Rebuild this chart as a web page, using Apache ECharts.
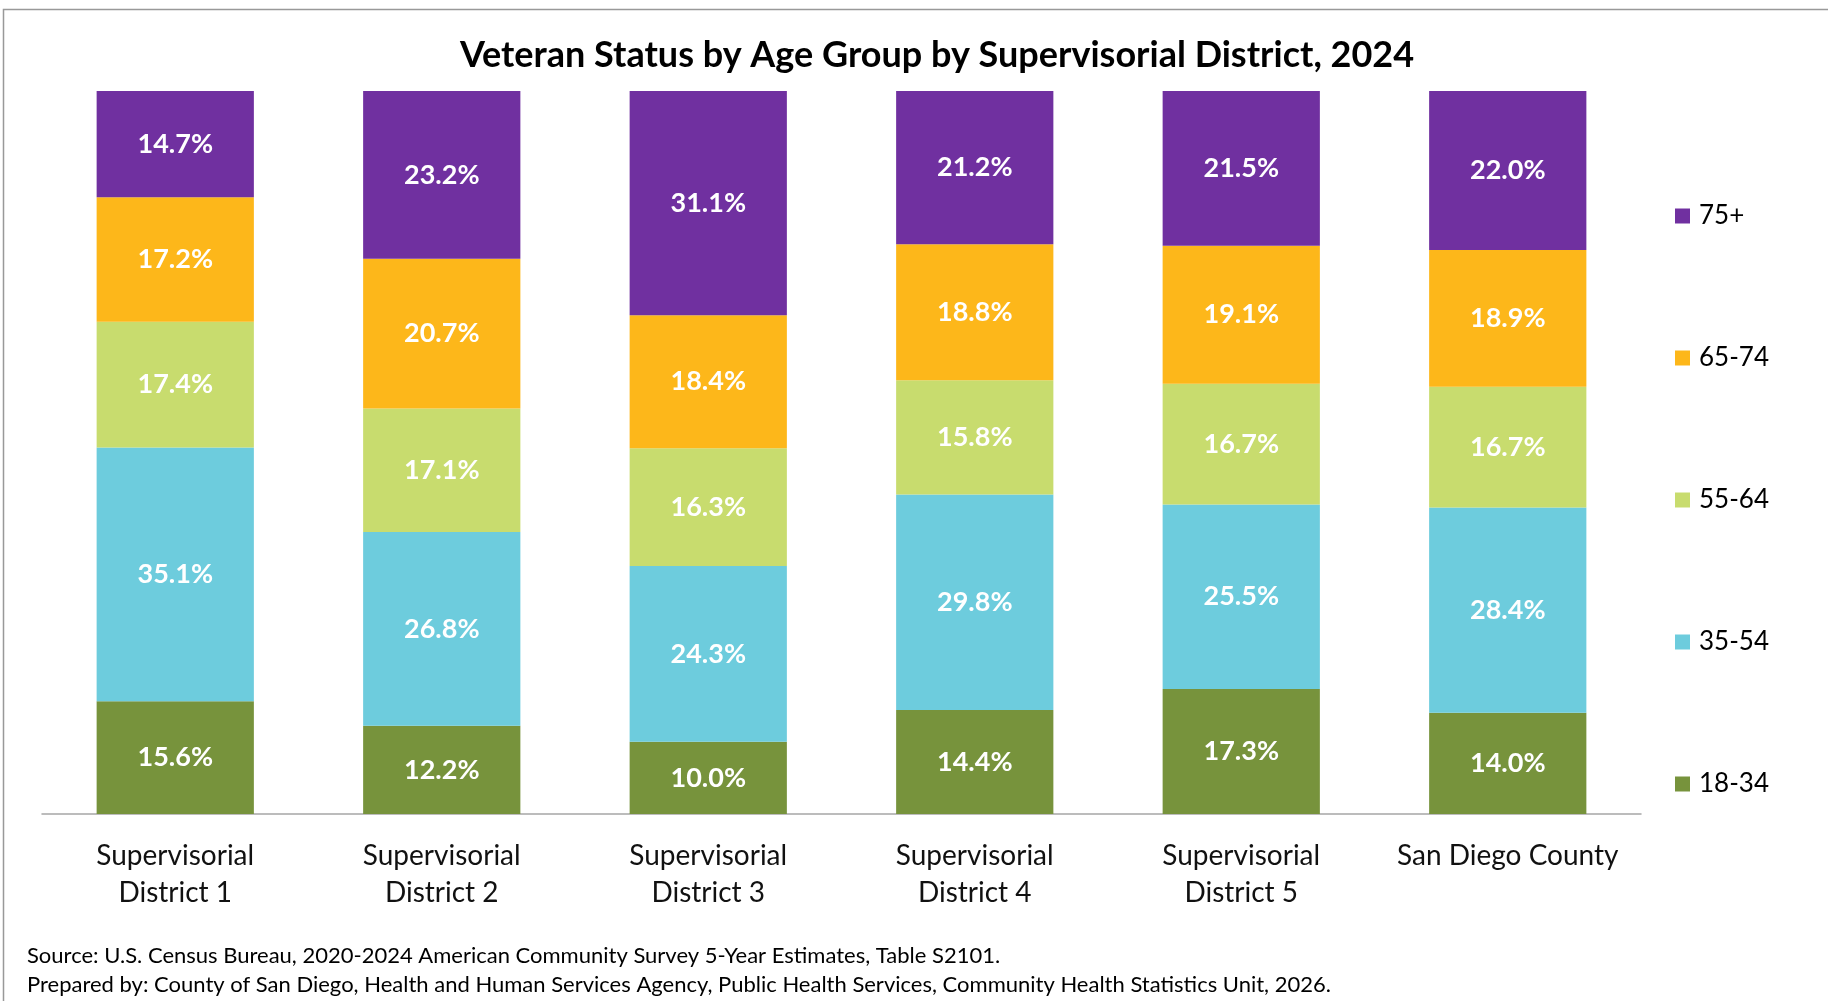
<!DOCTYPE html>
<html>
<head>
<meta charset="utf-8">
<script src="https://cdn.jsdelivr.net/npm/echarts@6/dist/echarts.min.js"></script>
<style>
html, body { margin: 0; padding: 0; background: #fff; }
#chart { width: 1828px; height: 1001px; }
</style>
</head>
<body>
<div id="chart"></div>
<script>
var districts = ['Supervisorial\nDistrict 1', 'Supervisorial\nDistrict 2', 'Supervisorial\nDistrict 3',
    'Supervisorial\nDistrict 4', 'Supervisorial\nDistrict 5', 'San Diego County'];
var ageGroups = ['18-34', '35-54', '55-64', '65-74', '75+'];
var age18_34 = [15.6, 12.2, 10.0, 14.4, 17.3, 14.0];
var age35_54 = [35.1, 26.8, 24.3, 29.8, 25.5, 28.4];
var age55_64 = [17.4, 17.1, 16.3, 15.8, 16.7, 16.7];
var age65_74 = [17.2, 20.7, 18.4, 18.8, 19.1, 18.9];
var age75up = [14.7, 23.2, 31.1, 21.2, 21.5, 22.0];
var colors = ['#77933C', '#6DCCDD', '#C8DC6E', '#FDB71A', '#7030A0'];

var FONT = 'Lato, "Open Sans", sans-serif';
var values = [age18_34, age35_54, age55_64, age65_74, age75up];

var series = [];
for (var i = 0; i < ageGroups.length; i++) {
    series.push({
        name: ageGroups[i],
        type: 'bar',
        stack: 'total',
        barWidth: '59%',
        data: values[i],
        itemStyle: { color: colors[i] },
        label: {
            show: true,
            position: 'inside',
            color: '#fff',
            fontFamily: FONT,
            fontWeight: 'bold',
            fontSize: 27,
            formatter: function (p) { return p.value.toFixed(1) + '%'; }
        }
    });
}

var myChart = echarts.init(document.getElementById('chart'));
var option = {
    animation: false,
    title: {
        text: 'Veteran Status by Age Group by Supervisorial District, 2024',
        left: 932,
        textAlign: 'center',
        top: 32,
        textStyle: { fontFamily: FONT, fontWeight: 'bold', fontSize: 36, color: '#000' }
    },
    legend: {
        orient: 'vertical',
        left: 1670,
        top: 196,
        itemWidth: 15,
        itemHeight: 15,
        itemGap: 112,
        icon: 'rect',
        data: ['75+', '65-74', '55-64', '35-54', '18-34'],
        textStyle: { fontFamily: FONT, fontSize: 26, color: '#000', lineHeight: 30, padding: [0, 0, 0, 4] }
    },
    grid: { left: 42, right: 187, top: 91, bottom: 187 },
    xAxis: {
        type: 'category',
        data: districts,
        axisLine: { lineStyle: { color: '#A6A6A6', width: 1.5 } },
        axisTick: { show: false },
        axisLabel: {
            fontFamily: FONT,
            fontSize: 28,
            color: '#111',
            lineHeight: 37,
            margin: 23,
            interval: 0
        }
    },
    yAxis: {
        type: 'value',
        min: 0,
        max: 100,
        show: false,
        splitLine: { show: false }
    },
    graphic: [
        {
            type: 'rect',
            shape: { x: 3.5, y: 9.5, width: 1900, height: 1100 },
            style: { fill: 'none', stroke: '#999', lineWidth: 1.5 },
            silent: true
        },
        {
            type: 'text',
            left: 27,
            top: 945,
            style: {
                text: 'Source: U.S. Census Bureau, 2020-2024 American Community Survey 5-Year Estimates, Table S2101.',
                fontFamily: FONT, fontSize: 22, fill: '#000'
            }
        },
        {
            type: 'text',
            left: 27,
            top: 974,
            style: {
                text: 'Prepared by: County of San Diego, Health and Human Services Agency, Public Health Services, Community Health Statistics Unit, 2026.',
                fontFamily: FONT, fontSize: 22, fill: '#000'
            }
        }
    ],
    series: series
};
myChart.setOption(option);
</script>
</body>
</html>
